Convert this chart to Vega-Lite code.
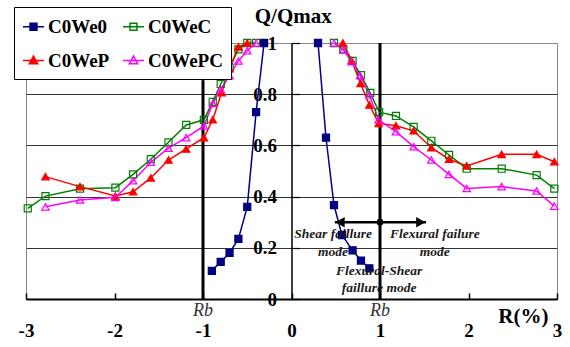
{
  "$schema": "https://vega.github.io/schema/vega-lite/v6.json",
  "width": 531,
  "height": 256,
  "autosize": {"type": "none"},
  "padding": {"left": 26, "top": 43, "right": 13, "bottom": 48},
  "background": "white",
  "config": {
    "view": {"stroke": "#888888", "strokeWidth": 1},
    "font": "Liberation Serif",
    "legend": {
      "fillColor": "white",
      "strokeColor": "black",
      "padding": 8,
      "columnPadding": 10,
      "rowPadding": 12,
      "labelFont": "Liberation Serif",
      "labelFontWeight": "bold",
      "labelFontSize": 19,
      "labelColor": "black",
      "labelOffset": 3,
      "symbolSize": 441,
      "symbolStrokeWidth": 1.5,
      "symbolOpacity": 1
    }
  },
  "encoding": {
    "x": {
      "field": "x",
      "type": "quantitative",
      "scale": {"domain": [-3, 3], "nice": false, "zero": false},
      "axis": {
        "title": null,
        "grid": false,
        "values": [-3, -2, -1, 0, 1, 2, 3],
        "labelExpr": "'' + datum.value",
        "labelFlush": false,
        "labelOverlap": false,
        "labelFont": "Liberation Serif",
        "labelFontWeight": "bold",
        "labelFontSize": 19,
        "labelColor": "black",
        "labelPadding": 28,
        "tickSize": -6,
        "tickWidth": 1.5,
        "tickColor": "black",
        "domainColor": "black",
        "domainWidth": 2
      }
    },
    "y": {
      "field": "y",
      "type": "quantitative",
      "scale": {"domain": [0, 1], "nice": false, "zero": false},
      "axis": {
        "title": null,
        "orient": "left",
        "offset": -265.5,
        "values": [0, 0.2, 0.4, 0.6, 0.8, 1],
        "format": "~g",
        "labelFont": "Liberation Serif",
        "labelFontWeight": "bold",
        "labelFontSize": 19,
        "labelColor": "black",
        "labelPadding": 23,
        "tickSize": -8,
        "tickWidth": 1.2,
        "tickColor": "black",
        "domainColor": "black",
        "domainWidth": 1.5,
        "grid": true,
        "gridColor": {"condition": {"test": "datum.value === 1", "value": "#888888"}, "value": "#333333"},
        "gridWidth": 1,
        "gridOpacity": 1
      }
    }
  },
  "datasets": {
    "curves": [
      {"s": "C0We0", "b": "L", "x": -0.9, "y": 0.11},
      {"s": "C0We0", "b": "L", "x": -0.8, "y": 0.145},
      {"s": "C0We0", "b": "L", "x": -0.7, "y": 0.18},
      {"s": "C0We0", "b": "L", "x": -0.6, "y": 0.235},
      {"s": "C0We0", "b": "L", "x": -0.5, "y": 0.36},
      {"s": "C0We0", "b": "L", "x": -0.4, "y": 0.73},
      {"s": "C0We0", "b": "L", "x": -0.31, "y": 1.0},
      {"s": "C0We0", "b": "R", "x": 0.3, "y": 1.0},
      {"s": "C0We0", "b": "R", "x": 0.39, "y": 0.63},
      {"s": "C0We0", "b": "R", "x": 0.48, "y": 0.367},
      {"s": "C0We0", "b": "R", "x": 0.57, "y": 0.25},
      {"s": "C0We0", "b": "R", "x": 0.69, "y": 0.19},
      {"s": "C0We0", "b": "R", "x": 0.785, "y": 0.15},
      {"s": "C0We0", "b": "R", "x": 0.88, "y": 0.12},

      {"s": "C0WeC", "b": "L", "x": -2.98, "y": 0.354},
      {"s": "C0WeC", "b": "L", "x": -2.78, "y": 0.402},
      {"s": "C0WeC", "b": "L", "x": -2.39, "y": 0.431},
      {"s": "C0WeC", "b": "L", "x": -1.99, "y": 0.435},
      {"s": "C0WeC", "b": "L", "x": -1.79, "y": 0.487},
      {"s": "C0WeC", "b": "L", "x": -1.59, "y": 0.546},
      {"s": "C0WeC", "b": "L", "x": -1.39, "y": 0.612},
      {"s": "C0WeC", "b": "L", "x": -1.19, "y": 0.68},
      {"s": "C0WeC", "b": "L", "x": -0.99, "y": 0.7},
      {"s": "C0WeC", "b": "L", "x": -0.89, "y": 0.77},
      {"s": "C0WeC", "b": "L", "x": -0.8, "y": 0.84},
      {"s": "C0WeC", "b": "L", "x": -0.7, "y": 0.905},
      {"s": "C0WeC", "b": "L", "x": -0.6, "y": 0.975},
      {"s": "C0WeC", "b": "L", "x": -0.5, "y": 1.0},
      {"s": "C0WeC", "b": "L", "x": -0.4, "y": 1.0},
      {"s": "C0WeC", "b": "R", "x": 0.48, "y": 1.0},
      {"s": "C0WeC", "b": "R", "x": 0.585, "y": 0.975},
      {"s": "C0WeC", "b": "R", "x": 0.69, "y": 0.93},
      {"s": "C0WeC", "b": "R", "x": 0.785, "y": 0.874},
      {"s": "C0WeC", "b": "R", "x": 0.89, "y": 0.805},
      {"s": "C0WeC", "b": "R", "x": 0.99, "y": 0.73},
      {"s": "C0WeC", "b": "R", "x": 1.18, "y": 0.715},
      {"s": "C0WeC", "b": "R", "x": 1.38, "y": 0.672},
      {"s": "C0WeC", "b": "R", "x": 1.58, "y": 0.618},
      {"s": "C0WeC", "b": "R", "x": 1.78, "y": 0.5625},
      {"s": "C0WeC", "b": "R", "x": 1.98, "y": 0.509},
      {"s": "C0WeC", "b": "R", "x": 2.375, "y": 0.509},
      {"s": "C0WeC", "b": "R", "x": 2.77, "y": 0.484},
      {"s": "C0WeC", "b": "R", "x": 2.97, "y": 0.431},

      {"s": "C0WeP", "b": "L", "x": -2.78, "y": 0.478},
      {"s": "C0WeP", "b": "L", "x": -2.39, "y": 0.439},
      {"s": "C0WeP", "b": "L", "x": -1.99, "y": 0.402},
      {"s": "C0WeP", "b": "L", "x": -1.79, "y": 0.419},
      {"s": "C0WeP", "b": "L", "x": -1.59, "y": 0.473},
      {"s": "C0WeP", "b": "L", "x": -1.39, "y": 0.543},
      {"s": "C0WeP", "b": "L", "x": -1.19, "y": 0.586},
      {"s": "C0WeP", "b": "L", "x": -0.99, "y": 0.63},
      {"s": "C0WeP", "b": "L", "x": -0.89, "y": 0.7},
      {"s": "C0WeP", "b": "L", "x": -0.79, "y": 0.806},
      {"s": "C0WeP", "b": "L", "x": -0.7, "y": 0.9},
      {"s": "C0WeP", "b": "L", "x": -0.6, "y": 0.985},
      {"s": "C0WeP", "b": "L", "x": -0.5, "y": 1.0},
      {"s": "C0WeP", "b": "R", "x": 0.58, "y": 1.0},
      {"s": "C0WeP", "b": "R", "x": 0.68, "y": 0.932},
      {"s": "C0WeP", "b": "R", "x": 0.78, "y": 0.842},
      {"s": "C0WeP", "b": "R", "x": 0.88, "y": 0.758},
      {"s": "C0WeP", "b": "R", "x": 0.985, "y": 0.686},
      {"s": "C0WeP", "b": "R", "x": 1.18, "y": 0.677},
      {"s": "C0WeP", "b": "R", "x": 1.38, "y": 0.657},
      {"s": "C0WeP", "b": "R", "x": 1.58, "y": 0.591},
      {"s": "C0WeP", "b": "R", "x": 1.78, "y": 0.546},
      {"s": "C0WeP", "b": "R", "x": 1.98, "y": 0.52},
      {"s": "C0WeP", "b": "R", "x": 2.375, "y": 0.565},
      {"s": "C0WeP", "b": "R", "x": 2.77, "y": 0.565},
      {"s": "C0WeP", "b": "R", "x": 2.97, "y": 0.536},

      {"s": "C0WePC", "b": "L", "x": -2.78, "y": 0.36},
      {"s": "C0WePC", "b": "L", "x": -2.39, "y": 0.387},
      {"s": "C0WePC", "b": "L", "x": -1.99, "y": 0.397},
      {"s": "C0WePC", "b": "L", "x": -1.79, "y": 0.462},
      {"s": "C0WePC", "b": "L", "x": -1.59, "y": 0.534},
      {"s": "C0WePC", "b": "L", "x": -1.39, "y": 0.589},
      {"s": "C0WePC", "b": "L", "x": -1.19, "y": 0.63},
      {"s": "C0WePC", "b": "L", "x": -0.99, "y": 0.676},
      {"s": "C0WePC", "b": "L", "x": -0.89, "y": 0.764},
      {"s": "C0WePC", "b": "L", "x": -0.8, "y": 0.82},
      {"s": "C0WePC", "b": "L", "x": -0.7, "y": 0.872},
      {"s": "C0WePC", "b": "L", "x": -0.6, "y": 0.93},
      {"s": "C0WePC", "b": "L", "x": -0.5, "y": 0.97},
      {"s": "C0WePC", "b": "L", "x": -0.4, "y": 1.0},
      {"s": "C0WePC", "b": "R", "x": 0.48, "y": 1.0},
      {"s": "C0WePC", "b": "R", "x": 0.585, "y": 0.973},
      {"s": "C0WePC", "b": "R", "x": 0.68, "y": 0.927},
      {"s": "C0WePC", "b": "R", "x": 0.775, "y": 0.873},
      {"s": "C0WePC", "b": "R", "x": 0.88, "y": 0.797},
      {"s": "C0WePC", "b": "R", "x": 0.985, "y": 0.7},
      {"s": "C0WePC", "b": "R", "x": 1.18, "y": 0.654},
      {"s": "C0WePC", "b": "R", "x": 1.38, "y": 0.595},
      {"s": "C0WePC", "b": "R", "x": 1.58, "y": 0.543},
      {"s": "C0WePC", "b": "R", "x": 1.78, "y": 0.487},
      {"s": "C0WePC", "b": "R", "x": 1.98, "y": 0.432},
      {"s": "C0WePC", "b": "R", "x": 2.375, "y": 0.439},
      {"s": "C0WePC", "b": "R", "x": 2.77, "y": 0.422},
      {"s": "C0WePC", "b": "R", "x": 2.97, "y": 0.363}
    ]
  },
  "layer": [
    {
      "data": {"values": [{"x": -1, "y": 0, "y2": 0.855}, {"x": 1, "y": 0, "y2": 1}]},
      "mark": {"type": "rule", "color": "black", "strokeWidth": 3},
      "encoding": {"y2": {"field": "y2"}}
    },
    {
      "data": {"name": "curves"},
      "mark": {"type": "line", "strokeWidth": 1.5},
      "encoding": {
        "stroke": {
          "field": "s", "type": "nominal", "title": null,
          "scale": {"domain": ["C0We0", "C0WeP", "C0WeC", "C0WePC"], "range": ["#000080", "#ff0000", "#008000", "#ff00ff"]}
        },
        "detail": {"field": "b"},
        "order": {"field": "x", "type": "quantitative"}
      }
    },
    {
      "data": {"name": "curves"},
      "transform": [{"filter": "datum.s === 'C0We0' || datum.s === 'C0WeC'"}],
      "mark": {"type": "point", "shape": "square", "size": 50, "strokeWidth": 1.2, "opacity": 1},
      "encoding": {
        "stroke": {
          "field": "s", "type": "nominal", "title": null,
          "scale": {"domain": ["C0We0", "C0WeP", "C0WeC", "C0WePC"], "range": ["#000080", "#ff0000", "#008000", "#ff00ff"]}
        },
        "fill": {
          "field": "s", "type": "nominal", "title": null,
          "scale": {"domain": ["C0We0", "C0WeP", "C0WeC", "C0WePC"], "range": ["#000080", "#ff0000", "transparent", "transparent"]}
        }
      }
    },
    {
      "data": {"name": "curves"},
      "transform": [{"filter": "datum.s === 'C0WeP' || datum.s === 'C0WePC'"}],
      "mark": {"type": "point", "shape": "triangle-up", "size": 55, "strokeWidth": 1.2, "opacity": 1},
      "encoding": {
        "stroke": {
          "field": "s", "type": "nominal", "title": null,
          "scale": {"domain": ["C0We0", "C0WeP", "C0WeC", "C0WePC"], "range": ["#000080", "#ff0000", "#008000", "#ff00ff"]}
        },
        "fill": {
          "field": "s", "type": "nominal", "title": null,
          "scale": {"domain": ["C0We0", "C0WeP", "C0WeC", "C0WePC"], "range": ["#000080", "#ff0000", "transparent", "transparent"]}
        }
      }
    },
    {
      "data": {"name": "curves"},
      "transform": [{"filter": "false"}],
      "mark": {"type": "point", "strokeWidth": 1.5, "opacity": 1},
      "encoding": {
        "stroke": {
          "field": "s", "type": "nominal", "title": null,
          "scale": {"domain": ["C0We0", "C0WeP", "C0WeC", "C0WePC"], "range": ["#000080", "#ff0000", "#008000", "#ff00ff"]},
          "legend": {"orient": "none", "legendX": -12, "legendY": -36, "columns": 2, "title": null}
        },
        "fill": {
          "field": "s", "type": "nominal", "title": null,
          "scale": {"domain": ["C0We0", "C0WeP", "C0WeC", "C0WePC"], "range": ["#000080", "#ff0000", "transparent", "transparent"]},
          "legend": {"orient": "none", "legendX": -12, "legendY": -36, "columns": 2, "title": null}
        },
        "shape": {
          "field": "s", "type": "nominal", "title": null,
          "scale": {"domain": ["C0We0", "C0WeP", "C0WeC", "C0WePC"], "range": [
            "M-1,0L1,0M-0.33,-0.33L0.33,-0.33L0.33,0.33L-0.33,0.33Z",
            "M-1,0L1,0M0,-0.42L0.4,0.3L-0.4,0.3Z",
            "M-1,0L1,0M-0.33,-0.33L0.33,-0.33L0.33,0.33L-0.33,0.33Z",
            "M-1,0L1,0M0,-0.42L0.4,0.3L-0.4,0.3Z"
          ]},
          "legend": {"orient": "none", "legendX": -12, "legendY": -36, "columns": 2, "title": null}
        }
      }
    },
    {
      "data": {"values": [{"x": 0.49, "x2": 1.52, "y": 0.3}]},
      "mark": {"type": "rule", "color": "black", "strokeWidth": 2.5},
      "encoding": {"x2": {"field": "x2"}}
    },
    {
      "data": {"values": [{"x": 0.55, "y": 0.3}]},
      "mark": {"type": "point", "filled": true, "color": "black", "opacity": 1, "size": 110, "shape": "triangle-left"},
      "encoding": {}
    },
    {
      "data": {"values": [{"x": 1.46, "y": 0.3}]},
      "mark": {"type": "point", "filled": true, "color": "black", "opacity": 1, "size": 110, "shape": "triangle-right"},
      "encoding": {}
    },
    {
      "data": {"values": [{"x": 1.0, "y": 0.3}]},
      "mark": {"type": "point", "filled": true, "color": "black", "opacity": 1, "size": 45, "shape": "circle"},
      "encoding": {}
    },
    {
      "data": {"values": [
        {"x": 0.47, "y": 0.254, "t": "Shear faillure"},
        {"x": 0.47, "y": 0.185, "t": "mode"},
        {"x": 1.62, "y": 0.254, "t": "Flexural failure"},
        {"x": 1.62, "y": 0.185, "t": "mode"},
        {"x": 0.99, "y": 0.11, "t": "Flexural-Shear"},
        {"x": 0.99, "y": 0.043, "t": "faillure mode"}
      ]},
      "mark": {"type": "text", "font": "Liberation Serif", "fontWeight": "bold", "fontStyle": "italic", "fontSize": 13.5, "color": "#1a1a1a", "baseline": "middle", "align": "center"},
      "encoding": {"text": {"field": "t"}}
    },
    {
      "data": {"values": [{"x": -1, "y": -0.048, "t": "Rb"}, {"x": 1, "y": -0.048, "t": "Rb"}]},
      "mark": {"type": "text", "font": "Liberation Serif", "fontStyle": "italic", "fontSize": 18, "color": "#333333", "baseline": "middle", "align": "center"},
      "encoding": {"text": {"field": "t"}}
    },
    {
      "data": {"values": [{"x": 0.02, "y": 1.1, "t": "Q/Qmax"}, {"x": 2.62, "y": -0.07, "t": "R(%)"}]},
      "mark": {"type": "text", "font": "Liberation Serif", "fontWeight": "bold", "fontSize": 21, "color": "black", "baseline": "middle", "align": "center"},
      "encoding": {"text": {"field": "t"}}
    }
  ]
}
